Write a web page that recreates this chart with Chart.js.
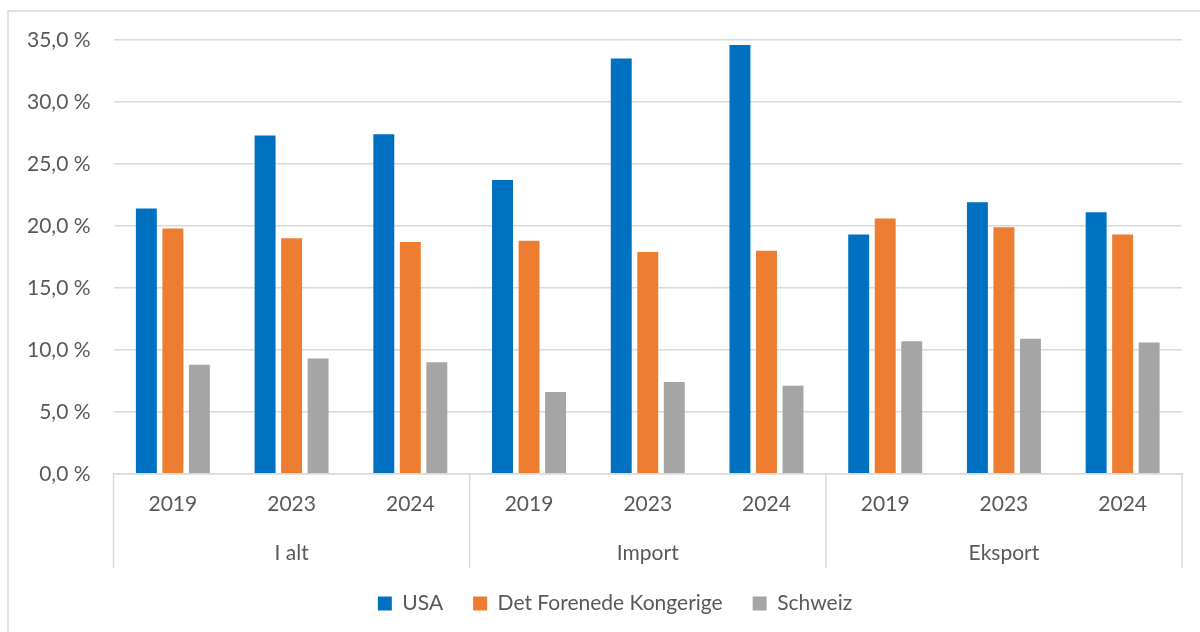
<!DOCTYPE html>
<html lang="da">
<head>
  <meta charset="UTF-8" />
  <title>Andel af handel</title>
  <script src="https://cdn.jsdelivr.net/npm/chart.js"></script>
  <style>
    html, body { margin: 0; padding: 0; background: #fff; overflow: hidden; }
    .wrap { position: absolute; left: 0; top: 0; width: 1200px; height: 632px; }
  </style>
</head>
<body>
  <div class="wrap"><canvas id="chart"></canvas></div>

  <script>
    // data
    const groups = ['I alt', 'Import', 'Eksport'];
    const years = ['2019', '2023', '2024'];
    const usa = [21.4, 27.3, 27.4, 23.7, 33.5, 34.6, 19.3, 21.9, 21.1];
    const uk = [19.8, 19.0, 18.7, 18.8, 17.9, 18.0, 20.6, 19.9, 19.3];
    const schweiz = [8.8, 9.3, 9.0, 6.6, 7.4, 7.1, 10.7, 10.9, 10.6];
    const yTicks = [0, 5, 10, 15, 20, 25, 30, 35];

    const labels = groups.flatMap(() => years);
    const textColor = '#595959';
    const lineColor = '#d9d9d9';
    const font = { family: 'Lato', size: 21 };

    // outer frame + group row under the years
    const groupAxis = {
      id: 'groupAxis',
      afterLayout(chart) {
        // legend sits a bit right of the canvas centre in the original
        chart.legend.left += 22;
        chart.legend.right += 22;
      },
      beforeDraw(chart) {
        const ctx = chart.ctx;
        ctx.save();
        ctx.strokeStyle = lineColor;
        ctx.lineWidth = 1.5;
        ctx.strokeRect(8, 11, 1300, 700);
        ctx.restore();
      },
      afterDraw(chart) {
        const x = chart.scales.x;
        const ctx = chart.ctx;
        const step = x.width / labels.length;
        const n = years.length;
        ctx.save();
        ctx.strokeStyle = lineColor;
        ctx.lineWidth = 1.5;
        ctx.fillStyle = textColor;
        ctx.font = font.size + 'px ' + font.family;
        ctx.textAlign = 'center';
        ctx.textBaseline = 'middle';
        groups.forEach((g, i) => {
          const left = x.getPixelForValue(i * n) - step / 2;
          const right = x.getPixelForValue(i * n + n - 1) + step / 2;
          ctx.beginPath();
          ctx.moveTo(left, x.top);
          ctx.lineTo(left, x.bottom + 5);
          if (i === groups.length - 1) {
            ctx.moveTo(right, x.top);
            ctx.lineTo(right, x.bottom + 5);
          }
          ctx.stroke();
          ctx.fillText(g, (left + right) / 2, x.bottom - 10);
        });
        ctx.restore();
      }
    };

    new Chart(document.getElementById('chart'), {
      type: 'bar',
      data: {
        labels: labels,
        datasets: [
          { label: 'USA', data: usa, backgroundColor: '#0070C0' },
          { label: 'Det Forenede Kongerige', data: uk, backgroundColor: '#ED7D31' },
          { label: 'Schweiz', data: schweiz, backgroundColor: '#A5A5A5' }
        ]
      },
      options: {
        responsive: true,
        maintainAspectRatio: false,
        animation: false,
        categoryPercentage: 0.67,
        barPercentage: 0.79,
        layout: { padding: { left: 4, right: 18, top: 40, bottom: 8 } },
        plugins: {
          tooltip: { enabled: false },
          legend: {
            position: 'bottom',
            labels: {
              color: textColor,
              font: font,
              boxWidth: 14,
              boxHeight: 14,
              padding: 30
            }
          }
        },
        scales: {
          x: {
            grid: { display: false },
            border: { color: lineColor, width: 1.5 },
            ticks: { color: textColor, font: font, padding: 10, maxRotation: 0 },
            afterFit(scale) { scale.height += 36; }
          },
          y: {
            min: 0,
            max: 35,
            afterBuildTicks(scale) { scale.ticks = yTicks.map(v => ({ value: v })); },
            grid: { color: lineColor, lineWidth: 1.5, drawTicks: false },
            border: { display: false },
            ticks: {
              color: textColor,
              font: font,
              padding: 23,
              callback: v => v.toFixed(1).replace('.', ',') + ' %'
            }
          }
        }
      },
      plugins: [groupAxis]
    });
  </script>
</body>
</html>
